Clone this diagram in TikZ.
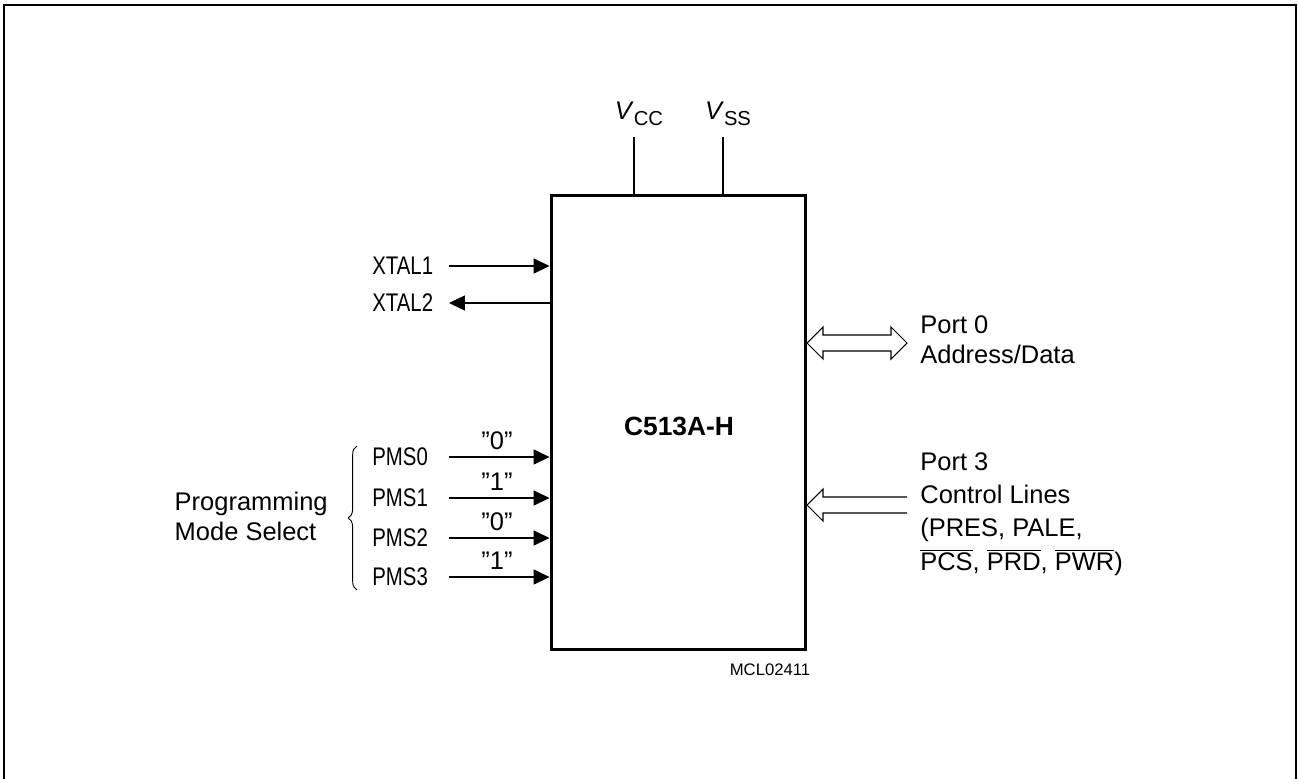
\documentclass[tikz,border=0pt]{standalone}
\usepackage{fontspec}
\setmainfont{Liberation Sans}
\newfontfamily\capfont{Liberation Sans}[FakeStretch=0.8]
\usetikzlibrary{arrows.meta,positioning,decorations.pathreplacing}

\begin{document}
\begin{tikzpicture}[x=0.02cm, y=-0.02cm,
    lbl/.style={font=\fontsize{14.5}{17}\selectfont, inner sep=0pt},
    caplbl/.style={font=\capfont\fontsize{14.5}{17}\selectfont, inner sep=0pt},
    sig/.style={line width=0.6pt, -{Triangle[length=9pt,width=8.5pt]}},
    bus/.style={line width=0.6pt, line join=miter},
    chipbox/.style={draw, line width=1.7pt, minimum width=5.1cm, minimum height=9.1cm, inner sep=0pt}]

    \useasboundingbox (0,0) rectangle (1298,778);

    % Frame
    \draw[line width=1.1pt] (4,5) rectangle (1296,800);

    % Chip
    \node[chipbox] (chip) at (678.5,422.5) {};
    \node[font=\bfseries\fontsize{15}{18}\selectfont] (name) at (679,426) {C513A-H};

    % Supply pins
    \coordinate (vcc) at (634,137);
    \coordinate (vss) at (723,137);
    \draw[line width=0.6pt] (vcc) -- (vcc |- chip.north);
    \draw[line width=0.6pt] (vss) -- (vss |- chip.north);
    \node[lbl] (vcclbl) at (639,114) {\textit{V}\raisebox{-.45ex}{\fontsize{11.5}{11}\selectfont CC}};
    \node[lbl] (vsslbl) at (728,114) {\textit{V}\raisebox{-.45ex}{\fontsize{11.5}{11}\selectfont SS}};

    % Oscillator
    \coordinate (x1) at (449,266);
    \coordinate (x2) at (449,303);
    \node[caplbl, anchor=west] (xtal1) at (372,266) {XTAL1};
    \node[caplbl, anchor=west] (xtal2) at (372,303) {XTAL2};
    \draw[sig] (x1) -- (x1 -| chip.west);
    \draw[sig] (x2 -| chip.west) -- (x2);

    % Mode select inputs
    \foreach \i/\v/\y in {0/0/457,1/1/498,2/0/538,3/1/577} {
        \coordinate (pms\i) at (449,\y);
        \node[caplbl, anchor=west] (pmslbl\i) at (372,\y) {PMS\i};
        \node[lbl] (val\i) at (497,\y-16) {''\v''};
        \draw[sig] (pms\i) -- (pms\i -| chip.west);
    }
    \coordinate (brb) at (357,590);
    \coordinate (brt) at (357,446);
    \draw[line width=0.5pt, decorate, decoration={brace, amplitude=5pt}] (brb) -- (brt);
    \node[lbl, anchor=east, align=left] (mode) at (328,516) {Programming\\Mode Select};

    % Ports
    \coordinate (p0) at (807,343);
    \coordinate (p3) at (807,505);
    \draw[bus] (p0) -- ++(16,-16) -- ++(0,8) -- ++(68,0) -- ++(0,-8) -- ++(16,16)
        -- ++(-16,16) -- ++(0,-8) -- ++(-68,0) -- ++(0,8) -- cycle;
    \draw[bus] (p3) -- ++(16,-16) -- ++(0,8) -- ++(84,0)
        (p3) -- ++(16,16) -- ++(0,-8) -- ++(84,0);
    \node[lbl, anchor=west, align=left] (port0) at (920,340) {Port 0\\Address/Data};
    \node[lbl, anchor=west, align=left, font=\fontsize{14.5}{19}\selectfont] (port3) at (920,514)
        {Port 3\\Control Lines\\(PRES, PALE,\\$\overline{\mbox{PCS}}$, $\overline{\mbox{PRD}}$, $\overline{\mbox{PWR}}$)};

    \node[font=\fontsize{9.5}{11}\selectfont] (code) at (770,670) {MCL02411};
\end{tikzpicture}
\end{document}
